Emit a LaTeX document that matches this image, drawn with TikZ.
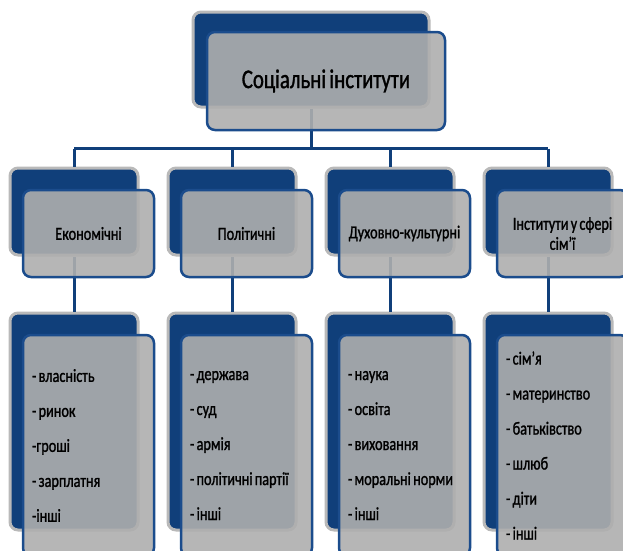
\documentclass[tikz,border=0pt]{standalone}
\usepackage{fontspec}
\setmainfont{Carlito}[FakeStretch=0.77,WordSpace=0.7,FakeBold=1.2]
\definecolor{navy}{HTML}{103F7A}
\definecolor{rim}{HTML}{1B4C8C}
\definecolor{card}{HTML}{AEAEAE}
\begin{document}
\begin{tikzpicture}[x=1pt,y=-1pt,
	backbox/.style={draw=gray!55,line width=3pt,fill=navy,rounded corners=8pt,
		minimum width=128pt,minimum height=87pt,inner sep=0pt},
	frontbox/.style={draw=rim,line width=2.5pt,fill=card,fill opacity=0.9,text opacity=1,
		rounded corners=8pt,minimum width=131pt,minimum height=87pt,inner sep=0pt},
	conn/.style={draw=navy,line width=3pt}]
	\clip (0,0) rectangle (623,550);
	\useasboundingbox (0,0) rectangle (623,550);
	% back boxes
	\node[backbox,minimum width=236pt,minimum height=95pt] (root-b) at (311,59.5) {};
	\foreach \x/\n in {74/eco,232/pol,390/dukh,548/sim}{
		\node[backbox] (\n-b) at (\x,211.5) {};
		\node[backbox,minimum height=217pt] (\n-lb) at (\x,421.5) {};
	}
	% connectors
	\draw[conn] (root-b.south) -- ++(0,40) coordinate (bus);
	\draw[conn] (eco-b.north |- bus) -- (sim-b.north |- bus);
	\foreach \n in {eco,pol,dukh,sim}{
		\draw[conn] (\n-b.north |- bus) -- (\n-b.north);
		\draw[conn] (\n-b.south) -- (\n-lb.north);
	}
	% front boxes
	\node[frontbox,minimum width=238pt,minimum height=98pt,font=\fontsize{27}{30}\selectfont] (root) at (326,81) {Соціальні інститути};
	\foreach \x/\n/\lab in {74/eco/Економічні,232/pol/Політичні,390/dukh/Духовно-культурні,
		548/sim/{Інститути у сфері\\сім'ї}}
		\node[frontbox,align=center,font=\fontsize{18.5}{20}\selectfont] (\n) at (\x+14.5,233.5) {\lab};
	\foreach \x/\n/\items in {
		74/eco/{- власність\\- ринок\\-гроші\\- зарплатня\\-інші},
		232/pol/{- держава\\- суд\\- армія\\- політичні партії\\- інші},
		390/dukh/{- наука\\- освіта\\- виховання\\- моральні норми\\- інші},
		548/sim/{- сім'я\\- материнство\\- батьківство\\- шлюб\\- діти\\- інші}}
		\node[frontbox,minimum height=221pt,align=flush left,text width=113pt,
			font=\fontsize{18.5}{35}\selectfont] (\n-l) at (\x+14.5,445.5) {\items};
\end{tikzpicture}
\end{document}
